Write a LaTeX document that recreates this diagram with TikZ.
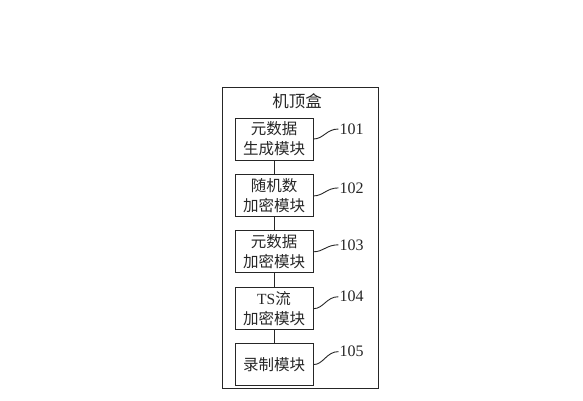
\documentclass[tikz,border=0pt]{standalone}
\usepackage{fontspec}
\setmainfont{Liberation Serif}
\newfontfamily\cjk{Noto Sans CJK SC}
\usetikzlibrary{positioning}

\begin{document}
\begin{tikzpicture}[
    x=1pt, y=-1pt,
    every node/.style={color=black!85, font=\fontsize{15.5}{20}\selectfont},
    module/.style={draw, line width=0.9pt, minimum width=78pt, minimum height=42pt,
      inner sep=0pt, align=center},
    outer box/.style={draw, line width=0.9pt, minimum width=156pt, minimum height=301pt},
    link/.style={line width=0.9pt, black!85},
    leader/.style={line width=0.9pt, black!85},
    number/.style={font=\fontsize{16}{18}\selectfont, inner sep=1pt}
    ]

    \useasboundingbox (0,0) rectangle (583,400);

    % set-top box
    \node[outer box] (stb) at (300,237.5) {};
    \node[font=\fontsize{16.5}{20}\selectfont] (title) at (297,101) {\cjk 机顶盒};
    % modules
    \node[module] (m101) at (274,139) {\cjk 元数据\\\cjk 生成模块};
    \node[module, below=14pt of m101] (m102) {\cjk 随机数\\\cjk 加密模块};
    \node[module, below=13pt of m102] (m103) {\cjk 元数据\\\cjk 加密模块};
    \node[module, below=14pt of m103] (m104) {TS{\cjk 流}\\\cjk 加密模块};
    \node[module, below=13pt of m104] (m105) {\cjk 录制模块};
    % links
    \draw[link] (m101) -- (m102);
    \draw[link] (m102) -- (m103);
    \draw[link] (m103) -- (m104);
    \draw[link] (m104) -- (m105);
    % reference numbers
    \foreach \m/\dy in {101/10, 102/8, 103/7, 104/12, 105/13} {
      \node[number, anchor=west] (l\m) at ([xshift=25pt, yshift=\dy pt]m\m.east) {\m};
      \draw[leader] (m\m.east) .. controls +(10,0) and +(-12,0) .. (l\m.west);
    }

\end{tikzpicture}
\end{document}
